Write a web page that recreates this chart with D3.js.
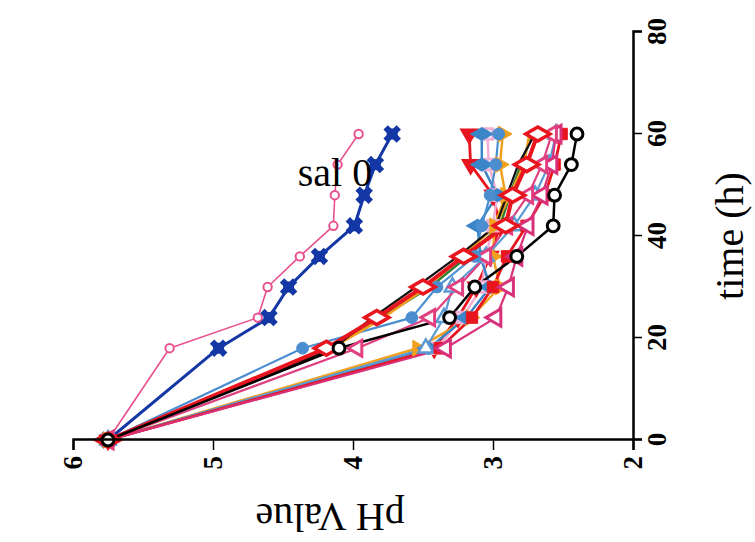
<!DOCTYPE html>
<html>
<head>
<meta charset="utf-8">
<script src="https://cdn.jsdelivr.net/npm/d3@7"></script>
<style>
  body { margin: 0; background: #fff; }
  text { font-family: "Liberation Serif", "DejaVu Serif", serif; }
</style>
</head>
<body>
<div id="chart"></div>
<script>
// sampling times (h)
var times = [0, 18, 24, 30, 36, 42, 48, 54, 60];
var timeTicks = [0, 20, 40, 60, 80];
var phTicks = [2, 3, 4, 5, 6];

// pH readings, one array per curve
var pinkCircle   = [5.75, 5.31, 4.68, 4.61, 4.38, 4.14, 4.13, 4.11, 3.96];
var navyStar     = [5.75, 4.96, 4.60, 4.46, 4.24, 3.99, 3.92, 3.84, 3.72];
var redTri       = [5.75, 3.42, 3.25, 3.12, 3.02, 2.95, 3.00, 3.16, 3.17];
var lightPinkSq  = [5.75, 3.40, 3.22, 3.08, 3.05, 3.00, 2.97, 3.03, 3.04];
var orangeTri    = [5.75, 3.54, 3.16, 2.95, 3.00, 2.99, 2.91, 2.95, 2.93];
var steelDiamond = [5.75, 3.46, 3.19, 3.02, 3.09, 3.11, 2.97, 3.08, 3.08];
var lightBlueTri = [5.75, 3.48, 3.35, 3.29, 3.05, 2.85, 2.70, 2.60, 2.55];
var redSquare    = [5.75, 3.38, 3.15, 3.00, 2.90, 2.76, 2.63, 2.56, 2.51];
var magentaTriB  = [5.75, 3.34, 2.98, 2.89, 2.83, 2.75, 2.65, 2.58, 2.55];
var magentaTriA  = [5.75, 3.97, 3.45, 3.25, 3.05, 2.90, 2.75, 2.65, 2.58];
var blueCircle   = [5.75, 4.36, 3.58, 3.40, 3.13, 3.08, 3.02, 2.98, 2.96];
var greenLine    = [5.75, 4.17, 3.80, 3.45, 3.18, 2.95, 2.88, 2.80, 2.72];
var orangeLine   = [5.75, 4.15, 3.78, 3.47, 3.22, 2.98, 2.88, 2.78, 2.74];
var blackSmall   = [5.75, 4.14, 3.86, 3.55, 3.25, 2.98, 2.90, 2.82, 2.70];
var redDiamond   = [5.75, 4.19, 3.83, 3.50, 3.21, 2.91, 2.86, 2.76, 2.68];
var blackCircle  = [5.75, 4.10, 3.31, 3.13, 2.83, 2.57, 2.56, 2.44, 2.40];

// drawing order and look of each curve
var series = [
  {v: pinkCircle,   color: "#e8508f", lw: 1.6, sym: "circle",   size: 55,  fill: "#fff", sw: 2},
  {v: navyStar,     color: "#1437a6", lw: 3,   sym: "star",     size: 120, fill: "#1437a6", sw: 1},
  {v: redTri,       color: "#e8141e", lw: 2.8, sym: "triangle", rot: -90, size: 110, fill: "#e8141e", sw: 2},
  {v: lightPinkSq,  color: "#f0b0d6", lw: 2.5, sym: "square",   size: 110, fill: "#fff", sw: 3},
  {v: orangeTri,    color: "#f2a11f", lw: 2.5, sym: "triangle", rot: 180, size: 110, fill: "#f2a11f", sw: 1},
  {v: steelDiamond, color: "#3a86c8", lw: 2.5, sym: "diamond",  size: 120, fill: "#3a86c8", sw: 2},
  {v: lightBlueTri, color: "#5b9bd5", lw: 2.2, sym: "triangle", rot: 90, size: 100, fill: "#fff", sw: 2.5},
  {v: redSquare,    color: "#e8141e", lw: 2.8, sym: "square",   size: 130, fill: "#e8141e", sw: 1},
  {v: magentaTriB,  color: "#d9307a", lw: 2.2, sym: "triangle", size: 130, fill: "#fff", sw: 3},
  {v: magentaTriA,  color: "#e0407f", lw: 2.2, sym: "triangle", size: 110, fill: "#fff", sw: 3},
  {v: blueCircle,   color: "#4a8ed0", lw: 2.2, sym: "circle",   size: 110, fill: "#4a8ed0", sw: 1},
  {v: greenLine,    color: "#2e7d32", lw: 2.5, sym: "circle",   size: 20,  fill: "#2e7d32", sw: 1},
  {v: orangeLine,   color: "#f2a11f", lw: 2.5, sym: "circle",   size: 20,  fill: "#f2a11f", sw: 1},
  {v: blackSmall,   color: "#111",    lw: 2.2, sym: "circle",   size: 18,  fill: "#111", sw: 1},
  {v: redDiamond,   color: "#e8141e", lw: 4,   sym: "diamond",  size: 170, fill: "#fff", sw: 3.5},
  {v: blackCircle,  color: "#000",    lw: 2.5, sym: "circle",   size: 110, fill: "#fff", sw: 3}
];

var W = 755, H = 542;
// plot drawn in its own frame (time across, pH up), then turned a quarter left
var pw = 408, ph = 560;

var svg = d3.select("#chart").append("svg")
  .attr("width", W)
  .attr("height", H);

var g = svg.append("g")
  .attr("transform", "translate(73,440) rotate(-90)");

var x = d3.scaleLinear().domain([0, 80]).range([0, pw]);
var y = d3.scaleLinear().domain([2, 6]).range([ph, 0]);

var symbols = {
  circle: d3.symbolCircle,
  square: d3.symbolSquare,
  diamond: d3.symbolDiamond,
  triangle: d3.symbolTriangle
};

var line = d3.line()
  .x(function(d, i) { return x(times[i]); })
  .y(function(d) { return y(d); });

series.forEach(function(s) {
  g.append("path")
    .attr("d", line(s.v))
    .attr("fill", "none")
    .attr("stroke", s.color)
    .attr("stroke-width", s.lw)
    .attr("stroke-linejoin", "round");
});

series.forEach(function(s) {
  var pts = g.append("g").selectAll("g")
    .data(s.v)
    .enter()
    .append("g")
    .attr("transform", function(d, i) {
      return "translate(" + x(times[i]) + "," + y(d) + ") rotate(" + (s.rot || 0) + ")";
    });
  if (s.sym == "star") {
    pts.append("path")
      .attr("d", d3.symbol().type(d3.symbolSquare).size(s.size))
      .attr("fill", s.fill);
    pts.append("path")
      .attr("d", d3.symbol().type(d3.symbolCross).size(s.size * 1.6))
      .attr("transform", "rotate(45)")
      .attr("fill", s.fill);
  } else {
    pts.append("path")
      .attr("d", d3.symbol().type(symbols[s.sym]).size(s.size))
      .attr("fill", s.fill)
      .attr("stroke", s.color)
      .attr("stroke-width", s.sw);
  }
});

// time axis (appears on the right)
var xAxis = g.append("g")
  .attr("transform", "translate(0," + ph + ")")
  .call(d3.axisBottom(x).tickValues(timeTicks).tickSize(9).tickPadding(10));
xAxis.select(".domain").attr("stroke-width", 2.5);
xAxis.selectAll(".tick line").attr("stroke-width", 1.5);
xAxis.selectAll("text")
  .style("font-family", "Liberation Serif, serif")
  .style("font-size", "27px")
  .style("font-weight", "bold")
  .attr("fill", "#000")
  .attr("dy", "0.5em");

// pH axis (appears at the bottom)
var yAxis = g.append("g")
  .call(d3.axisLeft(y).tickValues(phTicks).tickFormat(d3.format("d")).tickSize(10).tickPadding(6));
yAxis.select(".domain").attr("stroke-width", 2.5);
yAxis.selectAll(".tick line").attr("stroke-width", 1.5);
yAxis.selectAll("text")
  .style("font-family", "Liberation Serif, serif")
  .style("font-size", "27px")
  .style("font-weight", "bold")
  .attr("fill", "#000");

g.append("text")
  .attr("x", pw / 2)
  .attr("y", ph + 110)
  .attr("text-anchor", "middle")
  .style("font-size", "40px")
  .text("time (h)");

g.append("text")
  .attr("transform", "translate(-64," + (ph / 2 - 23) + ") rotate(-90)")
  .attr("text-anchor", "middle")
  .style("font-size", "40px")
  .text("pH Value");

svg.append("text")
  .attr("x", 335)
  .attr("y", 186)
  .attr("text-anchor", "middle")
  .style("font-size", "40px")
  .text("sal 0");
</script>
</body>
</html>
